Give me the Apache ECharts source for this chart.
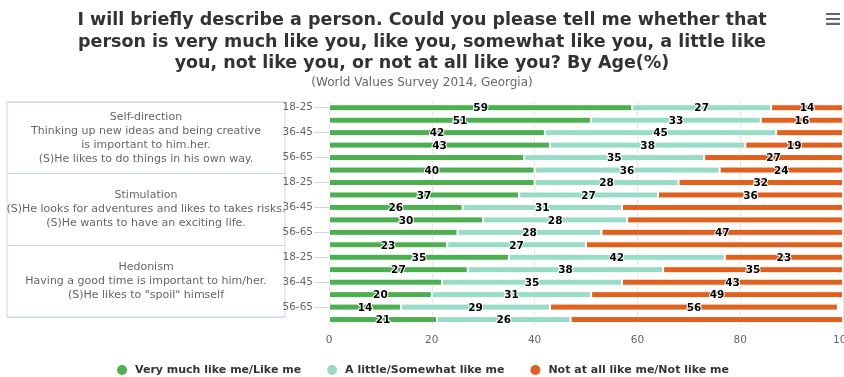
<!DOCTYPE html>
<html>
<head>
<meta charset="utf-8">
<script src="https://cdn.jsdelivr.net/npm/echarts@6/dist/echarts.min.js"></script>
<style>
html,body{margin:0;padding:0;background:#fff;}
#chart{width:844px;height:377px;}
</style>
</head>
<body>
<div id="chart"></div>
<script>
// ---- data ----
const groups = [
  'Self-direction\nThinking up new ideas and being creative\nis important to him.her.\n(S)He likes to do things in his own way.',
  'Stimulation\n(S)He looks for adventures and likes to takes risks.\n(S)He wants to have an exciting life.',
  'Hedonism\nHaving a good time is important to him/her.\n(S)He likes to "spoil" himself'
];
const ages = ['18-25', '26-35', '36-45', '46-55', '56-65', '65+'];
const seriesNames = ['Very much like me/Like me', 'A little/Somewhat like me', 'Not at all like me/Not like me'];
const likeMe =      [59, 51, 42, 43, 38, 40,  40, 37, 26, 30, 25, 23,  35, 27, 22, 20, 14, 21];
const somewhat =    [27, 33, 45, 38, 35, 36,  28, 27, 31, 28, 28, 27,  42, 38, 35, 31, 29, 26];
const notLikeMe =   [14, 16, 13, 19, 27, 24,  32, 36, 43, 42, 47, 50,  23, 35, 43, 49, 56, 53];
// labels the original chart did not show (overlap-hidden), by bar index
const hiddenLabels = [[4, 6, 10, 14], [], [2, 8, 9, 11, 17]];
const xTicks = [0, 20, 40, 60, 80, 100];

const colors = ['#4caf50', '#98dcc7', '#e0601e'];
const FONT = "'DejaVu Sans', sans-serif";

const cats = [];
groups.forEach((g, gi) => ages.forEach(a => cats.push(a + '#' + gi)));

const allData = [likeMe, somewhat, notLikeMe];
const series = allData.map((arr, si) => ({
  name: seriesNames[si],
  type: 'bar',
  stack: 'total',
  xAxisIndex: 0,
  yAxisIndex: 0,
  barWidth: 7,
  itemStyle: { color: colors[si], borderColor: '#fff', borderWidth: 1 },
  label: {
    show: true,
    position: 'inside',
    color: '#000',
    fontFamily: FONT,
    fontWeight: 'bold',
    fontSize: 10.5,
    textBorderColor: '#fff',
    textBorderWidth: 2,
    offset: [0, 1]
  },
  data: arr.map((v, i) => hiddenLabels[si].indexOf(i) >= 0 ? { value: v, label: { show: false } } : v)
}));

const chart = echarts.init(document.getElementById('chart'), null, { renderer: 'canvas' });
chart.setOption({
  animation: false,
  color: colors,
  title: {
    text: 'I will briefly describe a person. Could you please tell me whether that\nperson is very much like you, like you, somewhat like you, a little like\nyou, not like you, or not at all like you? By Age(%)',
    subtext: '(World Values Survey 2014, Georgia)',
    left: 'center',
    top: 5,
    itemGap: 2,
    textStyle: { fontFamily: FONT, fontSize: 17.5, fontWeight: 'bold', color: '#333', lineHeight: 21.5 },
    subtextStyle: { fontFamily: FONT, fontSize: 12, color: '#666' }
  },
  toolbox: {
    right: 4,
    top: 13,
    padding: 0,
    itemSize: 14,
    feature: {
      myMenu: {
        title: 'Menu',
        icon: 'path://M0,0H20V3H0Z M0,7H20V10H0Z M0,14H20V17H0Z',
        onclick: function () {}
      }
    },
    iconStyle: { color: '#666', borderColor: '#666', borderWidth: 0 }
  },
  legend: {
    left: 'center',
    top: 358,
    icon: 'circle',
    itemWidth: 12,
    itemHeight: 12,
    itemGap: 24,
    textStyle: { fontFamily: FONT, fontSize: 11, fontWeight: 'bold', color: '#333', padding: [0, 0, 0, 2] },
    data: seriesNames
  },
  grid: [
    { left: 329, right: 1, top: 101.5, height: 224.3, outerBoundsMode: 'none', containLabel: false },
    { left: 7, width: 278, top: 102, height: 215, show: true, borderColor: '#ccd6eb', borderWidth: 1, outerBoundsMode: 'none', containLabel: false }
  ],
  xAxis: [
    {
      gridIndex: 0,
      type: 'value',
      min: xTicks[0],
      max: xTicks[xTicks.length - 1],
      interval: xTicks[1] - xTicks[0],
      axisLine: { show: false },
      axisTick: { show: false },
      splitLine: { show: true, lineStyle: { color: '#e6e6e6' } },
      axisLabel: { color: '#666', fontFamily: FONT, fontSize: 10.5, margin: 9 }
    },
    { gridIndex: 1, type: 'value', show: false }
  ],
  yAxis: [
    {
      gridIndex: 0,
      type: 'category',
      inverse: true,
      data: cats,
      axisLine: { show: false },
      axisTick: { show: true, alignWithLabel: true, interval: 1, length: 15, lineStyle: { color: '#ccd6eb' } },
      axisLabel: {
        interval: 1,
        margin: 16,
        color: '#666',
        fontFamily: FONT,
        fontSize: 10.5,
        formatter: v => v.split('#')[0]
      },
      splitLine: { show: false }
    },
    {
      gridIndex: 1,
      type: 'category',
      inverse: true,
      data: groups,
      axisLine: { show: false },
      axisTick: { show: false },
      splitLine: { show: true, lineStyle: { color: '#ccd6eb' } },
      axisLabel: {
        inside: true,
        align: 'center',
        margin: 139,
        color: '#666',
        fontFamily: FONT,
        fontSize: 11,
        lineHeight: 14
      }
    }
  ],
  series: series
});
</script>
</body>
</html>
